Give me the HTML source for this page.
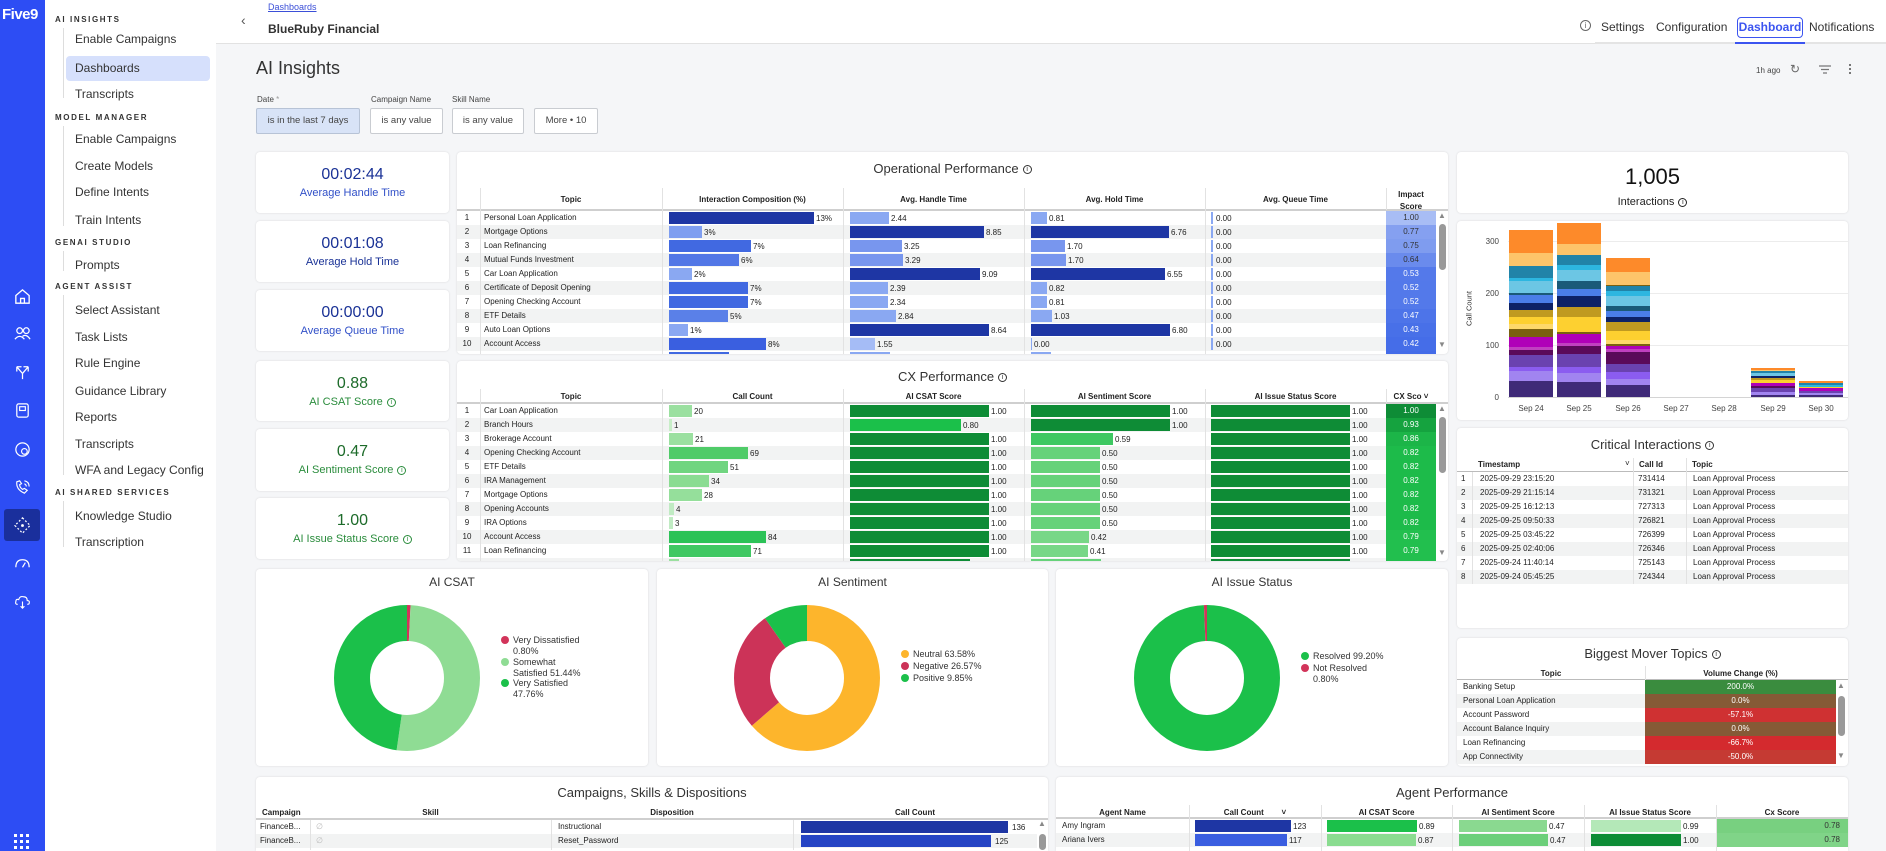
<!DOCTYPE html>
<html style="overflow:hidden;width:1886px;height:851px"><head><meta charset="utf-8"><style>
*{box-sizing:border-box;margin:0;padding:0}
body{width:1886px;height:851px;overflow:hidden;position:relative;background:#f5f6f8;font-family:"Liberation Sans",Arial,sans-serif;color:#222}
.a{position:absolute}
.rail{left:0;top:0;width:45px;height:851px;background:#2d4df4}
.nav{left:45px;top:0;width:171px;height:851px;background:#fff}
.sec{position:absolute;left:10px;font-size:8px;font-weight:bold;letter-spacing:1.6px;color:#333}
.it{position:absolute;left:30px;font-size:12px;color:#333}
.tl{position:absolute;left:18px;width:1px;background:#ddd}
.c{position:absolute;background:#fff;border-radius:4px;box-shadow:0 0 2px rgba(0,0,0,.12);overflow:hidden}
.ttl{position:absolute;left:0;right:0;text-align:center;font-size:13px;color:#333}
.hd{position:absolute;font-size:8px;font-weight:bold;color:#222;text-align:center}
.hb{position:absolute;left:0;right:0;height:2px;background:#cfcfcf}
.r{position:absolute;left:0;height:14px;font-size:8px;line-height:14px;color:#222}
.r.o{background:#f2f3f3}
.r span,.r b,.r em,.r i{position:absolute;font-style:normal;font-weight:normal}
.r b{top:1px;height:12px}
.r em{top:1px}
.r i{top:0;height:14px;text-align:center;color:#fff}
.ix{left:0;width:20px;text-align:center}
.vl{position:absolute;top:0;width:1px;background:#e2e2e2}
.kv{position:absolute;left:0;right:0;text-align:center;font-size:16px}
.kl{position:absolute;left:0;right:0;text-align:center;font-size:11px}
.fb{position:absolute;top:108px;height:26px;border:1px solid #c9ccd1;border-radius:2px;font-size:9.5px;color:#444;text-align:center;line-height:24px;background:#fff}
.fl{position:absolute;top:95px;font-size:8px;color:#444}
.ic{position:absolute;left:13px;width:19px;height:19px}
.lg{position:absolute;font-size:9px;color:#333;line-height:10.5px}
.dot{position:absolute;width:8px;height:8px;border-radius:50%}
.info{display:inline-block;width:9px;height:9px;border:1px solid currentColor;border-radius:50%;font-size:7px;line-height:7px;text-align:center;vertical-align:middle;margin-left:4px}
</style></head><body>

<!-- rail -->
<div class="a rail">
<div class="a" style="left:2px;top:6px;color:#fff;font-size:15px;font-weight:bold;letter-spacing:-0.5px">Five9</div>
<svg class="ic" style="top:287px" viewBox="0 0 20 20"><path d="M3 9 L10 3 L17 9 V17 H3 Z M8 17 V12 H12 V17" fill="none" stroke="#fff" stroke-width="1.4"/></svg>
<svg class="ic" style="top:324px" viewBox="0 0 20 20"><circle cx="7" cy="7" r="3" fill="none" stroke="#fff" stroke-width="1.3"/><circle cx="14" cy="7" r="3" fill="none" stroke="#fff" stroke-width="1.3"/><path d="M2 16 Q7 10 12 16 M10 13 Q14 10 18 16" fill="none" stroke="#fff" stroke-width="1.3"/></svg>
<svg class="ic" style="top:363px" viewBox="0 0 20 20"><path d="M4 4 V9 M4 4 H9 M4 4 L10 11 V17 M16 4 V9 M16 4 H11 M16 4 L10 11" fill="none" stroke="#fff" stroke-width="1.3"/></svg>
<svg class="ic" style="top:401px" viewBox="0 0 20 20"><rect x="4" y="3" width="12" height="14" rx="2" fill="none" stroke="#fff" stroke-width="1.3"/><rect x="7" y="6" width="6" height="4" fill="none" stroke="#fff" stroke-width="1.2"/></svg>
<svg class="ic" style="top:440px" viewBox="0 0 20 20"><circle cx="10" cy="10" r="7" fill="none" stroke="#fff" stroke-width="1.3"/><circle cx="12" cy="12" r="3" fill="none" stroke="#fff" stroke-width="1.2"/></svg>
<svg class="ic" style="top:478px" viewBox="0 0 20 20"><path d="M4 4 Q3 12 12 16 L15 13 L12 11 L10 12 Q7 10 7 7 L9 6 L7 3 Z M12 3 Q17 4 17 9 M12 6 Q14 7 14 9" fill="none" stroke="#fff" stroke-width="1.2"/></svg>
<svg class="ic" style="top:516px" viewBox="0 0 20 20"><circle cx="10" cy="10" r="7" fill="none" stroke="#fff" stroke-width="1.3"/><ellipse cx="10" cy="10" rx="3" ry="7" fill="none" stroke="#fff" stroke-width="1.2"/><path d="M3 10 H17" stroke="#fff" stroke-width="1.2"/></svg>
<div class="a" style="left:4px;top:509px;width:36px;height:32px;background:#1a2f9c;border-radius:3px"></div>
<svg class="ic" style="top:516px" viewBox="0 0 20 20"><path d="M10 2 L18 10 L10 18 L2 10 Z" fill="none" stroke="#fff" stroke-width="1.3" stroke-dasharray="2 2"/><circle cx="10" cy="10" r="1.5" fill="#fff"/></svg>
<svg class="ic" style="top:554px" viewBox="0 0 20 20"><path d="M3 14 Q3 6 10 6 Q17 6 17 14 M10 14 L13 9" fill="none" stroke="#fff" stroke-width="1.3"/></svg>
<svg class="ic" style="top:592px" viewBox="0 0 20 20"><path d="M5 13 Q2 13 3 10 Q3 7 6 8 Q7 4 11 5 Q15 5 15 9 Q18 9 17 12 Q17 13 15 13 M10 10 V17 M8 15 L10 17 L12 15" fill="none" stroke="#fff" stroke-width="1.2"/></svg>
<svg class="a" style="left:14px;top:834px" width="16" height="16" viewBox="0 0 16 16" fill="#fff"><rect x="0" y="0" width="3" height="3"/><rect x="6" y="0" width="3" height="3"/><rect x="12" y="0" width="3" height="3"/><rect x="0" y="6" width="3" height="3"/><rect x="6" y="6" width="3" height="3"/><rect x="12" y="6" width="3" height="3"/><rect x="0" y="12" width="3" height="3"/><rect x="6" y="12" width="3" height="3"/><rect x="12" y="12" width="3" height="3"/></svg>
</div>

<!-- nav -->
<div class="a nav">
<div class="sec" style="top:15px">AI INSIGHTS</div>
<div class="tl" style="top:28px;height:70px"></div>
<div class="it" style="top:32px">Enable Campaigns</div>
<div class="a" style="left:21px;top:56px;width:144px;height:25px;background:#d6e0fc;border-radius:4px"></div>
<div class="it" style="top:61px">Dashboards</div>
<div class="it" style="top:87px">Transcripts</div>
<div class="sec" style="top:113px">MODEL MANAGER</div>
<div class="tl" style="top:126px;height:100px"></div>
<div class="it" style="top:132px">Enable Campaigns</div>
<div class="it" style="top:159px">Create Models</div>
<div class="it" style="top:185px">Define Intents</div>
<div class="it" style="top:213px">Train Intents</div>
<div class="sec" style="top:238px">GENAI STUDIO</div>
<div class="tl" style="top:251px;height:20px"></div>
<div class="it" style="top:258px">Prompts</div>
<div class="sec" style="top:282px">AGENT ASSIST</div>
<div class="tl" style="top:295px;height:180px"></div>
<div class="it" style="top:303px">Select Assistant</div>
<div class="it" style="top:330px">Task Lists</div>
<div class="it" style="top:356px">Rule Engine</div>
<div class="it" style="top:384px">Guidance Library</div>
<div class="it" style="top:410px">Reports</div>
<div class="it" style="top:437px">Transcripts</div>
<div class="it" style="top:463px">WFA and Legacy Config</div>
<div class="sec" style="top:488px">AI SHARED SERVICES</div>
<div class="tl" style="top:501px;height:46px"></div>
<div class="it" style="top:509px">Knowledge Studio</div>
<div class="it" style="top:535px">Transcription</div>
</div>

<!-- header -->
<div class="a" style="left:216px;top:0;width:1670px;height:44px;background:#fff;border-bottom:1px solid #e2e2e2"></div>
<div class="a" style="left:241px;top:12px;font-size:14px;color:#555">‹</div>
<div class="a" style="left:268px;top:2px;font-size:9px;color:#3b4fd8;text-decoration:underline">Dashboards</div>
<div class="a" style="left:268px;top:22px;font-size:12px;font-weight:bold;color:#333">BlueRuby Financial</div>
<div class="a" style="left:1580px;top:20px;width:11px;height:11px;border:1px solid #666;border-radius:50%;font-size:8px;line-height:9px;text-align:center;color:#666">i</div>
<div class="a" style="left:1601px;top:20px;font-size:12px;color:#333">Settings</div>
<div class="a" style="left:1656px;top:20px;font-size:12px;color:#333">Configuration</div>
<div class="a" style="left:1737px;top:17px;width:66px;height:21px;border:1px solid #3b54f0;border-radius:4px;font-size:12px;font-weight:bold;color:#3b54f0;text-align:center;line-height:19px">Dashboard</div>
<div class="a" style="left:1809px;top:20px;font-size:12px;color:#333">Notifications</div>
<div class="a" style="left:1595px;top:42px;width:291px;height:2px;background:#e4e4e4"></div>
<div class="a" style="left:1735px;top:42px;width:70px;height:2px;background:#3b54f0"></div>

<div class="a" style="left:256px;top:58px;font-size:18px;color:#333">AI Insights</div>
<div class="a" style="left:1756px;top:66px;font-size:8px;color:#444">1h ago</div>
<div class="a" style="left:1790px;top:62px;font-size:12px;color:#666">↻</div>
<svg class="a" style="left:1819px;top:65px" width="12" height="9"><path d="M0 1 H12 M2 4.5 H10 M4 8 H8" stroke="#777" stroke-width="1.2"/></svg>
<div class="a" style="left:1849px;top:64px;width:2px;height:10px;border-left:2px dotted #777"></div>

<div class="fl" style="left:257px">Date <span style="color:#999">*</span></div>
<div class="fl" style="left:371px">Campaign Name</div>
<div class="fl" style="left:452px">Skill Name</div>
<div class="fb" style="left:256px;width:104px;background:#d8e3f7;border-color:#b7c3d6">is in the last 7 days</div>
<div class="fb" style="left:370px;width:73px">is any value</div>
<div class="fb" style="left:452px;width:72px">is any value</div>
<div class="fb" style="left:534px;width:64px">More • 10</div>

<!-- KPI cards -->
<div class="c" style="left:256px;top:152px;width:193px;height:61px"><div class="kv" style="top:14px;color:#1a3296">00:02:44</div><div class="kl" style="top:35px;color:#3150c8">Average Handle Time</div></div>
<div class="c" style="left:256px;top:221px;width:193px;height:61px"><div class="kv" style="top:14px;color:#1a3296">00:01:08</div><div class="kl" style="top:35px;color:#1a3296">Average Hold Time</div></div>
<div class="c" style="left:256px;top:290px;width:193px;height:61px"><div class="kv" style="top:14px;color:#1a3296">00:00:00</div><div class="kl" style="top:35px;color:#3150c8">Average Queue Time</div></div>
<div class="c" style="left:256px;top:361px;width:193px;height:60px"><div class="kv" style="top:14px;color:#1d6b2a">0.88</div><div class="kl" style="top:35px;color:#2a8c3c">AI CSAT Score<span class="info">i</span></div></div>
<div class="c" style="left:256px;top:429px;width:193px;height:62px"><div class="kv" style="top:14px;color:#1d6b2a">0.47</div><div class="kl" style="top:35px;color:#2a8c3c">AI Sentiment Score<span class="info">i</span></div></div>
<div class="c" style="left:256px;top:498px;width:193px;height:61px"><div class="kv" style="top:14px;color:#1d6b2a">1.00</div><div class="kl" style="top:35px;color:#2a8c3c">AI Issue Status Score<span class="info">i</span></div></div>

<!-- Operational Performance -->
<div class="c" style="left:457px;top:152px;width:991px;height:202px">
<div class="ttl" style="top:9px">Operational Performance<span class="info">i</span></div>
<div class="hd" style="left:23px;width:182px;top:43px">Topic</div>
<div class="hd" style="left:205px;width:181px;top:43px">Interaction Composition (%)</div>
<div class="hd" style="left:386px;width:181px;top:43px">Avg. Handle Time</div>
<div class="hd" style="left:567px;width:181px;top:43px">Avg. Hold Time</div>
<div class="hd" style="left:748px;width:181px;top:43px">Avg. Queue Time</div>
<div class="hd" style="left:929px;width:50px;top:37px;line-height:12px">Impact<br>Score</div>
<div class="hb" style="top:57px"></div>
<div class="r" style="top:59px;width:979px"><span class="ix">1</span><span style="left:27px">Personal Loan Application</span><b style="left:212px;width:145px;background:#1e36a4"></b><em style="left:359px">13%</em><b style="left:393px;width:39px;background:#8aa8f2"></b><em style="left:434px">2.44</em><b style="left:574px;width:16px;background:#8aa8f2"></b><em style="left:592px">0.81</em><b style="left:754px;width:2px;background:#8aa8f2"></b><em style="left:759px">0.00</em><i style="left:929px;width:50px;background:#a8bdf5;color:#333">1.00</i></div>
<div class="r o" style="top:73px;width:979px"><span class="ix">2</span><span style="left:27px">Mortgage Options</span><b style="left:212px;width:33px;background:#7f9ef0"></b><em style="left:247px">3%</em><b style="left:393px;width:134px;background:#1e36a4"></b><em style="left:529px">8.85</em><b style="left:574px;width:138px;background:#1e36a4"></b><em style="left:714px">6.76</em><b style="left:754px;width:2px;background:#8aa8f2"></b><em style="left:759px">0.00</em><i style="left:929px;width:50px;background:#85a0f0;color:#333">0.77</i></div>
<div class="r" style="top:87px;width:979px"><span class="ix">3</span><span style="left:27px">Loan Refinancing</span><b style="left:212px;width:82px;background:#4169e1"></b><em style="left:296px">7%</em><b style="left:393px;width:52px;background:#7896ee"></b><em style="left:447px">3.25</em><b style="left:574px;width:34px;background:#7896ee"></b><em style="left:610px">1.70</em><b style="left:754px;width:2px;background:#8aa8f2"></b><em style="left:759px">0.00</em><i style="left:929px;width:50px;background:#7f9cef;color:#333">0.75</i></div>
<div class="r o" style="top:101px;width:979px"><span class="ix">4</span><span style="left:27px">Mutual Funds Investment</span><b style="left:212px;width:70px;background:#5277e6"></b><em style="left:284px">6%</em><b style="left:393px;width:53px;background:#7896ee"></b><em style="left:448px">3.29</em><b style="left:574px;width:35px;background:#7896ee"></b><em style="left:611px">1.70</em><b style="left:754px;width:2px;background:#8aa8f2"></b><em style="left:759px">0.00</em><i style="left:929px;width:50px;background:#6a8bed;color:#333">0.64</i></div>
<div class="r" style="top:115px;width:979px"><span class="ix">5</span><span style="left:27px">Car Loan Application</span><b style="left:212px;width:23px;background:#8aa8f2"></b><em style="left:237px">2%</em><b style="left:393px;width:130px;background:#1e36a4"></b><em style="left:525px">9.09</em><b style="left:574px;width:134px;background:#1e36a4"></b><em style="left:710px">6.55</em><b style="left:754px;width:2px;background:#8aa8f2"></b><em style="left:759px">0.00</em><i style="left:929px;width:50px;background:#5479ea">0.53</i></div>
<div class="r o" style="top:129px;width:979px"><span class="ix">6</span><span style="left:27px">Certificate of Deposit Opening</span><b style="left:212px;width:79px;background:#4169e1"></b><em style="left:293px">7%</em><b style="left:393px;width:38px;background:#8aa8f2"></b><em style="left:433px">2.39</em><b style="left:574px;width:16px;background:#8aa8f2"></b><em style="left:592px">0.82</em><b style="left:754px;width:2px;background:#8aa8f2"></b><em style="left:759px">0.00</em><i style="left:929px;width:50px;background:#5379ea">0.52</i></div>
<div class="r" style="top:143px;width:979px"><span class="ix">7</span><span style="left:27px">Opening Checking Account</span><b style="left:212px;width:79px;background:#4169e1"></b><em style="left:293px">7%</em><b style="left:393px;width:38px;background:#8aa8f2"></b><em style="left:433px">2.34</em><b style="left:574px;width:16px;background:#8aa8f2"></b><em style="left:592px">0.81</em><b style="left:754px;width:2px;background:#8aa8f2"></b><em style="left:759px">0.00</em><i style="left:929px;width:50px;background:#5379ea">0.52</i></div>
<div class="r o" style="top:157px;width:979px"><span class="ix">8</span><span style="left:27px">ETF Details</span><b style="left:212px;width:59px;background:#5a80e8"></b><em style="left:273px">5%</em><b style="left:393px;width:46px;background:#8aa8f2"></b><em style="left:441px">2.84</em><b style="left:574px;width:21px;background:#8aa8f2"></b><em style="left:597px">1.03</em><b style="left:754px;width:2px;background:#8aa8f2"></b><em style="left:759px">0.00</em><i style="left:929px;width:50px;background:#4d74e9">0.47</i></div>
<div class="r" style="top:171px;width:979px"><span class="ix">9</span><span style="left:27px">Auto Loan Options</span><b style="left:212px;width:19px;background:#8aa8f2"></b><em style="left:233px">1%</em><b style="left:393px;width:139px;background:#1e36a4"></b><em style="left:534px">8.64</em><b style="left:574px;width:139px;background:#1e36a4"></b><em style="left:715px">6.80</em><b style="left:754px;width:2px;background:#8aa8f2"></b><em style="left:759px">0.00</em><i style="left:929px;width:50px;background:#4870e8">0.43</i></div>
<div class="r o" style="top:185px;width:979px"><span class="ix">10</span><span style="left:27px">Account Access</span><b style="left:212px;width:97px;background:#3a5fe0"></b><em style="left:311px">8%</em><b style="left:393px;width:25px;background:#a5bcf6"></b><em style="left:420px">1.55</em><b style="left:574px;width:1px;background:#8aa8f2"></b><em style="left:577px">0.00</em><b style="left:754px;width:2px;background:#8aa8f2"></b><em style="left:759px">0.00</em><i style="left:929px;width:50px;background:#456de8">0.42</i></div>
<div class="r" style="top:199px;width:979px"><b style="left:212px;width:60px;background:#4169e1"></b><b style="left:393px;width:40px;background:#8aa8f2"></b><b style="left:574px;width:20px;background:#8aa8f2"></b><i style="left:929px;width:50px;background:#436be8"></i></div>
<div class="vl" style="left:23px;top:36px;height:166px"></div><div class="vl" style="left:205px;top:36px;height:166px"></div><div class="vl" style="left:386px;top:36px;height:166px"></div><div class="vl" style="left:567px;top:36px;height:166px"></div><div class="vl" style="left:748px;top:36px;height:166px"></div><div class="vl" style="left:929px;top:36px;height:22px"></div>
<div class="a" style="left:981px;top:59px;font-size:8px;color:#888">▲</div>
<div class="a" style="left:982px;top:72px;width:7px;height:46px;background:#999;border-radius:4px"></div>
<div class="a" style="left:981px;top:188px;font-size:8px;color:#888">▼</div>
</div>

<!-- CX Performance -->
<div class="c" style="left:457px;top:361px;width:991px;height:200px">
<div class="ttl" style="top:8px">CX Performance<span class="info">i</span></div>
<div class="hd" style="left:23px;width:182px;top:31px">Topic</div>
<div class="hd" style="left:205px;width:181px;top:31px">Call Count</div>
<div class="hd" style="left:386px;width:181px;top:31px">AI CSAT Score</div>
<div class="hd" style="left:567px;width:181px;top:31px">AI Sentiment Score</div>
<div class="hd" style="left:748px;width:181px;top:31px">AI Issue Status Score</div>
<div class="hd" style="left:929px;width:50px;top:31px">CX Sco ˅</div>
<div class="hb" style="top:41px"></div>
<div class="r" style="top:43px;width:979px"><span class="ix">1</span><span style="left:27px">Car Loan Application</span><b style="left:212px;width:23px;background:#9be0a0"></b><em style="left:237px">20</em><b style="left:393px;width:139px;background:#0e8c36"></b><em style="left:534px">1.00</em><b style="left:574px;width:139px;background:#0e8c36"></b><em style="left:715px">1.00</em><b style="left:754px;width:139px;background:#0e8c36"></b><em style="left:895px">1.00</em><i style="left:929px;width:50px;background:#0e8c36">1.00</i></div>
<div class="r o" style="top:57px;width:979px"><span class="ix">2</span><span style="left:27px">Branch Hours</span><b style="left:212px;width:3px;background:#c8eec8"></b><em style="left:217px">1</em><b style="left:393px;width:111px;background:#1bc04a"></b><em style="left:506px">0.80</em><b style="left:574px;width:139px;background:#0e8c36"></b><em style="left:715px">1.00</em><b style="left:754px;width:139px;background:#0e8c36"></b><em style="left:895px">1.00</em><i style="left:929px;width:50px;background:#15a33f">0.93</i></div>
<div class="r" style="top:71px;width:979px"><span class="ix">3</span><span style="left:27px">Brokerage Account</span><b style="left:212px;width:24px;background:#9be0a0"></b><em style="left:238px">21</em><b style="left:393px;width:139px;background:#0e8c36"></b><em style="left:534px">1.00</em><b style="left:574px;width:82px;background:#3ec862"></b><em style="left:658px">0.59</em><b style="left:754px;width:139px;background:#0e8c36"></b><em style="left:895px">1.00</em><i style="left:929px;width:50px;background:#1cb548">0.86</i></div>
<div class="r o" style="top:85px;width:979px"><span class="ix">4</span><span style="left:27px">Opening Checking Account</span><b style="left:212px;width:79px;background:#4fcb68"></b><em style="left:293px">69</em><b style="left:393px;width:139px;background:#0e8c36"></b><em style="left:534px">1.00</em><b style="left:574px;width:69px;background:#66d27a"></b><em style="left:645px">0.50</em><b style="left:754px;width:139px;background:#0e8c36"></b><em style="left:895px">1.00</em><i style="left:929px;width:50px;background:#1dbb4a">0.82</i></div>
<div class="r" style="top:99px;width:979px"><span class="ix">5</span><span style="left:27px">ETF Details</span><b style="left:212px;width:59px;background:#70d580"></b><em style="left:273px">51</em><b style="left:393px;width:139px;background:#0e8c36"></b><em style="left:534px">1.00</em><b style="left:574px;width:69px;background:#66d27a"></b><em style="left:645px">0.50</em><b style="left:754px;width:139px;background:#0e8c36"></b><em style="left:895px">1.00</em><i style="left:929px;width:50px;background:#1dbb4a">0.82</i></div>
<div class="r o" style="top:113px;width:979px"><span class="ix">6</span><span style="left:27px">IRA Management</span><b style="left:212px;width:40px;background:#8adc92"></b><em style="left:254px">34</em><b style="left:393px;width:139px;background:#0e8c36"></b><em style="left:534px">1.00</em><b style="left:574px;width:69px;background:#66d27a"></b><em style="left:645px">0.50</em><b style="left:754px;width:139px;background:#0e8c36"></b><em style="left:895px">1.00</em><i style="left:929px;width:50px;background:#1dbb4a">0.82</i></div>
<div class="r" style="top:127px;width:979px"><span class="ix">7</span><span style="left:27px">Mortgage Options</span><b style="left:212px;width:33px;background:#95df9b"></b><em style="left:247px">28</em><b style="left:393px;width:139px;background:#0e8c36"></b><em style="left:534px">1.00</em><b style="left:574px;width:69px;background:#66d27a"></b><em style="left:645px">0.50</em><b style="left:754px;width:139px;background:#0e8c36"></b><em style="left:895px">1.00</em><i style="left:929px;width:50px;background:#1dbb4a">0.82</i></div>
<div class="r o" style="top:141px;width:979px"><span class="ix">8</span><span style="left:27px">Opening Accounts</span><b style="left:212px;width:5px;background:#c0ebc3"></b><em style="left:219px">4</em><b style="left:393px;width:139px;background:#0e8c36"></b><em style="left:534px">1.00</em><b style="left:574px;width:69px;background:#66d27a"></b><em style="left:645px">0.50</em><b style="left:754px;width:139px;background:#0e8c36"></b><em style="left:895px">1.00</em><i style="left:929px;width:50px;background:#1dbb4a">0.82</i></div>
<div class="r" style="top:155px;width:979px"><span class="ix">9</span><span style="left:27px">IRA Options</span><b style="left:212px;width:4px;background:#c0ebc3"></b><em style="left:218px">3</em><b style="left:393px;width:139px;background:#0e8c36"></b><em style="left:534px">1.00</em><b style="left:574px;width:69px;background:#66d27a"></b><em style="left:645px">0.50</em><b style="left:754px;width:139px;background:#0e8c36"></b><em style="left:895px">1.00</em><i style="left:929px;width:50px;background:#1dbb4a">0.82</i></div>
<div class="r o" style="top:169px;width:979px"><span class="ix">10</span><span style="left:27px">Account Access</span><b style="left:212px;width:97px;background:#2cc257"></b><em style="left:311px">84</em><b style="left:393px;width:139px;background:#0e8c36"></b><em style="left:534px">1.00</em><b style="left:574px;width:58px;background:#78d787"></b><em style="left:634px">0.42</em><b style="left:754px;width:139px;background:#0e8c36"></b><em style="left:895px">1.00</em><i style="left:929px;width:50px;background:#22bf4e">0.79</i></div>
<div class="r" style="top:183px;width:979px"><span class="ix">11</span><span style="left:27px">Loan Refinancing</span><b style="left:212px;width:82px;background:#40c863"></b><em style="left:296px">71</em><b style="left:393px;width:139px;background:#0e8c36"></b><em style="left:534px">1.00</em><b style="left:574px;width:57px;background:#78d787"></b><em style="left:633px">0.41</em><b style="left:754px;width:139px;background:#0e8c36"></b><em style="left:895px">1.00</em><i style="left:929px;width:50px;background:#22bf4e">0.79</i></div>
<div class="r o" style="top:197px;width:979px"><b style="left:212px;width:10px;background:#9be0a0"></b><b style="left:393px;width:120px;background:#0e8c36"></b><b style="left:574px;width:70px;background:#66d27a"></b><b style="left:754px;width:139px;background:#0e8c36"></b><i style="left:929px;width:50px;background:#22bf4e"></i></div>
<div class="vl" style="left:23px;top:28px;height:172px"></div><div class="vl" style="left:205px;top:28px;height:172px"></div><div class="vl" style="left:386px;top:28px;height:172px"></div><div class="vl" style="left:567px;top:28px;height:172px"></div><div class="vl" style="left:748px;top:28px;height:172px"></div><div class="vl" style="left:929px;top:28px;height:14px"></div>
<div class="a" style="left:981px;top:43px;font-size:8px;color:#888">▲</div>
<div class="a" style="left:982px;top:56px;width:7px;height:56px;background:#999;border-radius:4px"></div>
<div class="a" style="left:981px;top:187px;font-size:8px;color:#888">▼</div>
</div>

<!-- Interactions -->
<div class="c" style="left:1457px;top:152px;width:391px;height:61px">
<div class="a" style="left:0;right:0;top:12px;text-align:center;font-size:22px;color:#111">1,005</div>
<div class="a" style="left:0;right:0;top:44px;text-align:center;font-size:11px;color:#222">Interactions<span class="info">i</span></div>
</div>

<!-- Chart -->
<div class="c" style="left:1457px;top:221px;width:391px;height:199px">
<div class="a" style="left:51px;right:0;top:20px;height:1px;background:#ececec"></div>
<div class="a" style="left:51px;right:0;top:72px;height:1px;background:#ececec"></div>
<div class="a" style="left:51px;right:0;top:124px;height:1px;background:#ececec"></div>
<div class="a" style="left:51px;right:0;top:176px;height:1px;background:#d4d4d4"></div>
<div class="a" style="left:14px;width:28px;text-align:right;top:16px;font-size:8px;color:#444">300</div>
<div class="a" style="left:14px;width:28px;text-align:right;top:68px;font-size:8px;color:#444">200</div>
<div class="a" style="left:14px;width:28px;text-align:right;top:120px;font-size:8px;color:#444">100</div>
<div class="a" style="left:14px;width:28px;text-align:right;top:172px;font-size:8px;color:#444">0</div>
<div class="a" style="left:-10px;top:83px;width:44px;text-align:center;font-size:7.5px;color:#333;transform:rotate(-90deg)">Call Count</div>
<div class="a" style="left:52px;bottom:23px;width:44px;display:flex;flex-direction:column-reverse">
<div style="height:16px;background:#3f2a78"></div><div style="height:10px;background:#a184f0"></div><div style="height:4px;background:#8b5cf0"></div><div style="height:12px;background:#6a42b0"></div><div style="height:5px;background:#5a0a5a"></div><div style="height:3px;background:#c040c0"></div><div style="height:10px;background:#b000b8"></div><div style="height:8px;background:#7a6010"></div><div style="height:5px;background:#fdd86a"></div><div style="height:7px;background:#fdd030"></div><div style="height:7px;background:#c09a20"></div><div style="height:7px;background:#0d2266"></div><div style="height:8px;background:#4a7ee8"></div><div style="height:2px;background:#1a5a78"></div><div style="height:12px;background:#6cc6e4"></div><div style="height:3px;background:#2db6e0"></div><div style="height:12px;background:#2183a8"></div><div style="height:13px;background:#fdc46a"></div><div style="height:23px;background:#fd8a2a"></div></div>
<div class="a" style="left:100px;bottom:23px;width:44px;display:flex;flex-direction:column-reverse">
<div style="height:15px;background:#3f2a78"></div><div style="height:9px;background:#a184f0"></div><div style="height:6px;background:#8b5cf0"></div><div style="height:13px;background:#6a42b0"></div><div style="height:8px;background:#5a0a5a"></div><div style="height:3px;background:#c040c0"></div><div style="height:9px;background:#b000b8"></div><div style="height:2px;background:#7a6010"></div><div style="height:15px;background:#fdd030"></div><div style="height:10px;background:#c09a20"></div><div style="height:11px;background:#0d2266"></div><div style="height:7px;background:#4a7ee8"></div><div style="height:8px;background:#1a5a78"></div><div style="height:11px;background:#6cc6e4"></div><div style="height:5px;background:#2db6e0"></div><div style="height:10px;background:#2183a8"></div><div style="height:11px;background:#fdc46a"></div><div style="height:21px;background:#fd8a2a"></div></div>
<div class="a" style="left:149px;bottom:23px;width:44px;display:flex;flex-direction:column-reverse">
<div style="height:12px;background:#3f2a78"></div><div style="height:6px;background:#a184f0"></div><div style="height:7px;background:#8b5cf0"></div><div style="height:8px;background:#6a42b0"></div><div style="height:12px;background:#5a0a5a"></div><div style="height:3px;background:#c040c0"></div><div style="height:3px;background:#b000b8"></div><div style="height:2px;background:#7a6010"></div><div style="height:4px;background:#fdd86a"></div><div style="height:9px;background:#fdd030"></div><div style="height:9px;background:#c09a20"></div><div style="height:5px;background:#0d2266"></div><div style="height:6px;background:#4a7ee8"></div><div style="height:5px;background:#1a5a78"></div><div style="height:10px;background:#6cc6e4"></div><div style="height:5px;background:#2db6e0"></div><div style="height:5px;background:#2183a8"></div><div style="height:1px;background:#7a6010"></div><div style="height:13px;background:#fdc46a"></div><div style="height:14px;background:#fd8a2a"></div></div>
<div class="a" style="left:294px;bottom:23px;width:44px;display:flex;flex-direction:column-reverse">
<div style="height:2px;background:#3f2a78"></div><div style="height:3px;background:#a184f0"></div><div style="height:4px;background:#6a42b0"></div><div style="height:2px;background:#5a0a5a"></div><div style="height:3px;background:#b000b8"></div><div style="height:3px;background:#fdd030"></div><div style="height:2px;background:#c09a20"></div><div style="height:2px;background:#0d2266"></div><div style="height:3px;background:#6cc6e4"></div><div style="height:2px;background:#2183a8"></div><div style="height:1px;background:#fdc46a"></div><div style="height:2px;background:#fd8a2a"></div></div>
<div class="a" style="left:342px;bottom:23px;width:44px;display:flex;flex-direction:column-reverse">
<div style="height:2px;background:#3f2a78"></div><div style="height:2px;background:#a184f0"></div><div style="height:2px;background:#6a42b0"></div><div style="height:3px;background:#b000b8"></div><div style="height:1px;background:#fdd030"></div><div style="height:2px;background:#2db6e0"></div><div style="height:2px;background:#2183a8"></div><div style="height:2px;background:#fd8a2a"></div></div>
<div class="a" style="left:54px;width:40px;text-align:center;top:183px;font-size:8px;color:#444">Sep 24</div>
<div class="a" style="left:102px;width:40px;text-align:center;top:183px;font-size:8px;color:#444">Sep 25</div>
<div class="a" style="left:151px;width:40px;text-align:center;top:183px;font-size:8px;color:#444">Sep 26</div>
<div class="a" style="left:199px;width:40px;text-align:center;top:183px;font-size:8px;color:#444">Sep 27</div>
<div class="a" style="left:247px;width:40px;text-align:center;top:183px;font-size:8px;color:#444">Sep 28</div>
<div class="a" style="left:296px;width:40px;text-align:center;top:183px;font-size:8px;color:#444">Sep 29</div>
<div class="a" style="left:344px;width:40px;text-align:center;top:183px;font-size:8px;color:#444">Sep 30</div>
</div>

<!-- Critical Interactions -->
<div class="c" style="left:1457px;top:428px;width:391px;height:200px">
<div class="ttl" style="top:9px">Critical Interactions<span class="info">i</span></div>
<div class="a" style="left:21px;top:32px;font-size:8px;font-weight:bold">Timestamp</div>
<div class="a" style="left:168px;top:31px;font-size:8px">˅</div>
<div class="a" style="left:182px;top:32px;font-size:8px;font-weight:bold">Call Id</div>
<div class="a" style="left:235px;top:32px;font-size:8px;font-weight:bold">Topic</div>
<div class="hb" style="top:43px;height:1px;background:#bbb"></div>
<div class="r" style="top:44px;width:391px"><span style="left:4px">1</span><span style="left:23px">2025-09-29 23:15:20</span><span style="left:181px">731414</span><span style="left:236px">Loan Approval Process</span></div>
<div class="r o" style="top:58px;width:391px"><span style="left:4px">2</span><span style="left:23px">2025-09-29 21:15:14</span><span style="left:181px">731321</span><span style="left:236px">Loan Approval Process</span></div>
<div class="r" style="top:72px;width:391px"><span style="left:4px">3</span><span style="left:23px">2025-09-25 16:12:13</span><span style="left:181px">727313</span><span style="left:236px">Loan Approval Process</span></div>
<div class="r o" style="top:86px;width:391px"><span style="left:4px">4</span><span style="left:23px">2025-09-25 09:50:33</span><span style="left:181px">726821</span><span style="left:236px">Loan Approval Process</span></div>
<div class="r" style="top:100px;width:391px"><span style="left:4px">5</span><span style="left:23px">2025-09-25 03:45:22</span><span style="left:181px">726399</span><span style="left:236px">Loan Approval Process</span></div>
<div class="r o" style="top:114px;width:391px"><span style="left:4px">6</span><span style="left:23px">2025-09-25 02:40:06</span><span style="left:181px">726346</span><span style="left:236px">Loan Approval Process</span></div>
<div class="r" style="top:128px;width:391px"><span style="left:4px">7</span><span style="left:23px">2025-09-24 11:40:14</span><span style="left:181px">725143</span><span style="left:236px">Loan Approval Process</span></div>
<div class="r o" style="top:142px;width:391px"><span style="left:4px">8</span><span style="left:23px">2025-09-24 05:45:25</span><span style="left:181px">724344</span><span style="left:236px">Loan Approval Process</span></div>
<div class="vl" style="left:15px;top:44px;height:112px"></div><div class="vl" style="left:176px;top:30px;height:126px"></div><div class="vl" style="left:229px;top:30px;height:126px"></div>
</div>

<!-- Biggest Mover -->
<div class="c" style="left:1457px;top:638px;width:391px;height:128px">
<div class="ttl" style="top:8px">Biggest Mover Topics<span class="info">i</span></div>
<div class="hd" style="left:0;width:188px;top:31px">Topic</div>
<div class="hd" style="left:188px;width:191px;top:31px">Volume Change (%)</div>
<div class="hb" style="top:41px;height:1px;background:#bbb"></div>
<div class="r" style="top:42px;width:379px"><span style="left:6px">Banking Setup</span><i style="left:188px;width:191px;background:#3a8c3e">200.0%</i></div>
<div class="r o" style="top:56px;width:379px"><span style="left:6px">Personal Loan Application</span><i style="left:188px;width:191px;background:#855a36">0.0%</i></div>
<div class="r" style="top:70px;width:379px"><span style="left:6px">Account Password</span><i style="left:188px;width:191px;background:#cf3132">-57.1%</i></div>
<div class="r o" style="top:84px;width:379px"><span style="left:6px">Account Balance Inquiry</span><i style="left:188px;width:191px;background:#855a36">0.0%</i></div>
<div class="r" style="top:98px;width:379px"><span style="left:6px">Loan Refinancing</span><i style="left:188px;width:191px;background:#d42a2e">-66.7%</i></div>
<div class="r o" style="top:112px;width:379px"><span style="left:6px">App Connectivity</span><i style="left:188px;width:191px;background:#c53a33">-50.0%</i></div>
<div class="vl" style="left:188px;top:28px;height:14px"></div>
<div class="a" style="left:380px;top:43px;font-size:8px;color:#888">▲</div>
<div class="a" style="left:381px;top:58px;width:7px;height:40px;background:#999;border-radius:4px"></div>
<div class="a" style="left:380px;top:113px;font-size:8px;color:#888">▼</div>
</div>

<!-- Donuts -->
<div class="c" style="left:256px;top:569px;width:392px;height:197px">
<div class="ttl" style="top:6px;font-size:12px">AI CSAT</div>
<svg class="a" style="left:78px;top:36px" width="146" height="146" viewBox="-73 -73 146 146"><g transform="rotate(-90)" fill="none" stroke-width="36">
<circle r="55" stroke="#d2345a" stroke-dasharray="2.76 400" stroke-dashoffset="0"/>
<circle r="55" stroke="#8fdc94" stroke-dasharray="177.77 400" stroke-dashoffset="-2.76"/>
<circle r="55" stroke="#1bc04a" stroke-dasharray="165.05 400" stroke-dashoffset="-180.53"/></g></svg>
<div class="dot" style="left:245px;top:67px;background:#d2345a"></div><div class="lg" style="left:257px;top:66px">Very Dissatisfied<br>0.80%</div>
<div class="dot" style="left:245px;top:89px;background:#8fdc94"></div><div class="lg" style="left:257px;top:88px">Somewhat<br>Satisfied 51.44%</div>
<div class="dot" style="left:245px;top:110px;background:#1bc04a"></div><div class="lg" style="left:257px;top:109px">Very Satisfied<br>47.76%</div>
</div>
<div class="c" style="left:657px;top:569px;width:391px;height:197px">
<div class="ttl" style="top:6px;font-size:12px">AI Sentiment</div>
<svg class="a" style="left:77px;top:36px" width="146" height="146" viewBox="-73 -73 146 146"><g transform="rotate(-90)" fill="none" stroke-width="36">
<circle r="55" stroke="#fdb52c" stroke-dasharray="219.72 400" stroke-dashoffset="0"/>
<circle r="55" stroke="#cc3358" stroke-dasharray="91.82 400" stroke-dashoffset="-219.72"/>
<circle r="55" stroke="#1bc04a" stroke-dasharray="34.04 400" stroke-dashoffset="-311.54"/></g></svg>
<div class="dot" style="left:244px;top:81px;background:#fdb52c"></div><div class="lg" style="left:256px;top:80px">Neutral 63.58%</div>
<div class="dot" style="left:244px;top:93px;background:#cc3358"></div><div class="lg" style="left:256px;top:92px">Negative 26.57%</div>
<div class="dot" style="left:244px;top:105px;background:#1bc04a"></div><div class="lg" style="left:256px;top:104px">Positive 9.85%</div>
</div>
<div class="c" style="left:1056px;top:569px;width:392px;height:197px">
<div class="ttl" style="top:6px;font-size:12px">AI Issue Status</div>
<svg class="a" style="left:78px;top:36px" width="146" height="146" viewBox="-73 -73 146 146"><g transform="rotate(-90)" fill="none" stroke-width="36">
<circle r="55" stroke="#1bc04a" stroke-dasharray="342.82 400" stroke-dashoffset="0"/>
<circle r="55" stroke="#d2345a" stroke-dasharray="2.76 400" stroke-dashoffset="-342.82"/></g></svg>
<div class="dot" style="left:245px;top:83px;background:#1bc04a"></div><div class="lg" style="left:257px;top:82px">Resolved 99.20%</div>
<div class="dot" style="left:245px;top:95px;background:#d2345a"></div><div class="lg" style="left:257px;top:94px">Not Resolved<br>0.80%</div>
</div>

<!-- Campaigns -->
<div class="c" style="left:256px;top:777px;width:792px;height:74px;border-radius:4px 4px 0 0">
<div class="ttl" style="top:8px">Campaigns, Skills &amp; Dispositions</div>
<div class="a" style="left:6px;top:31px;font-size:8px;font-weight:bold">Campaign</div>
<div class="hd" style="left:54px;width:241px;top:31px">Skill</div>
<div class="hd" style="left:295px;width:242px;top:31px">Disposition</div>
<div class="hd" style="left:537px;width:244px;top:31px">Call Count</div>
<div class="hb" style="top:41px"></div>
<div class="r" style="top:43px;width:781px"><span style="left:4px">FinanceB...</span><span style="left:60px;color:#bbb">∅</span><span style="left:302px">Instructional</span><b style="left:545px;width:207px;background:#1e36a4"></b><em style="left:756px">136</em></div>
<div class="r o" style="top:57px;width:781px"><span style="left:4px">FinanceB...</span><span style="left:60px;color:#bbb">∅</span><span style="left:302px">Reset_Password</span><b style="left:545px;width:190px;background:#2544c4"></b><em style="left:739px">125</em></div>
<div class="vl" style="left:54px;top:43px;height:30px"></div><div class="vl" style="left:295px;top:43px;height:30px"></div><div class="vl" style="left:537px;top:43px;height:30px"></div>
<div class="a" style="left:782px;top:42px;font-size:8px;color:#888">▲</div>
<div class="a" style="left:783px;top:57px;width:7px;height:16px;background:#999;border-radius:4px"></div>
</div>

<!-- Agent Performance -->
<div class="c" style="left:1056px;top:777px;width:792px;height:74px;border-radius:4px 4px 0 0">
<div class="ttl" style="top:8px">Agent Performance</div>
<div class="hd" style="left:0;width:133px;top:31px">Agent Name</div>
<div class="hd" style="left:133px;width:132px;top:31px">Call Count &nbsp; &nbsp; &nbsp; &nbsp;˅</div>
<div class="hd" style="left:265px;width:131px;top:31px">AI CSAT Score</div>
<div class="hd" style="left:396px;width:132px;top:31px">AI Sentiment Score</div>
<div class="hd" style="left:528px;width:132px;top:31px">AI Issue Status Score</div>
<div class="hd" style="left:660px;width:132px;top:31px">Cx Score</div>
<div class="hb" style="top:40px"></div>
<div class="r" style="top:42px;width:792px"><span style="left:6px">Amy Ingram</span><b style="left:139px;width:96px;background:#1e36a4"></b><em style="left:237px">123</em><b style="left:271px;width:90px;background:#1bc04a"></b><em style="left:363px">0.89</em><b style="left:403px;width:88px;background:#8ad990"></b><em style="left:493px">0.47</em><b style="left:535px;width:90px;background:#b4e8b8"></b><em style="left:627px">0.99</em><i style="left:661px;width:131px;background:#78d080;color:#333;text-align:right;padding-right:8px">0.78</i></div>
<div class="r o" style="top:56px;width:792px"><span style="left:6px">Ariana Ivers</span><b style="left:139px;width:92px;background:#3a5ee0"></b><em style="left:233px">117</em><b style="left:271px;width:89px;background:#8adc90"></b><em style="left:362px">0.87</em><b style="left:403px;width:89px;background:#6ccf7a"></b><em style="left:494px">0.47</em><b style="left:535px;width:90px;background:#0e8c36"></b><em style="left:627px">1.00</em><i style="left:661px;width:131px;background:#80d488;color:#333;text-align:right;padding-right:8px">0.78</i></div>
<div class="vl" style="left:133px;top:28px;height:46px"></div><div class="vl" style="left:265px;top:28px;height:46px"></div><div class="vl" style="left:396px;top:28px;height:46px"></div><div class="vl" style="left:528px;top:28px;height:46px"></div><div class="vl" style="left:660px;top:28px;height:46px"></div>
</div>
</body></html>
